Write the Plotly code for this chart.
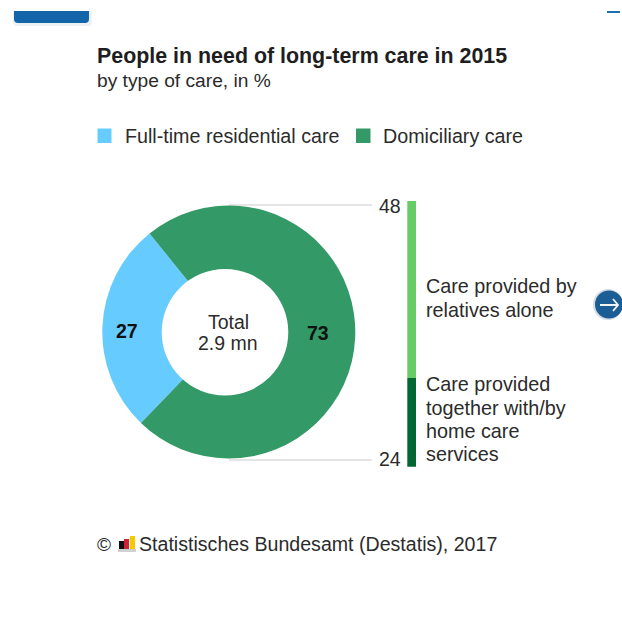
import plotly.graph_objects as go

W, H = 622, 644

# Care-type shares, in %
care_types = ["Full-time residential care", "Domiciliary care"]
care_shares = [27, 73]
care_colors = ["#66CCFF", "#339966"]

# Breakdown of domiciliary care, in %
home_types = ["Care provided together with/by home care services", "Care provided by relatives alone"]
home_shares = [24, 48]
home_colors = ["#006633", "#66CC66"]

title = "People in need of long-term care in 2015"
subtitle = "by type of care, in %"
center_lines = ["Total", "2.9 mn"]
source = "Statistisches Bundesamt (Destatis), 2017"
TEXT = "#2b2b2b"
FONT = "Liberation Sans"


def px(x):
    return x / W


def py(y):
    return 1 - y / H


def label(x, y, text, size=19.5, anchor="left", bold=False, color=TEXT):
    return dict(
        x=px(x), y=py(y), xref="paper", yref="paper", text=f"<b>{text}</b>" if bold else text,
        showarrow=False, xanchor=anchor, yanchor="middle", align=anchor, borderpad=0, borderwidth=0,
        font=dict(family=FONT, size=size, color=color),
    )


def rect(x0, y0, x1, y1, color):
    return dict(type="rect", xref="paper", yref="paper", x0=px(x0), x1=px(x1), y0=py(y0), y1=py(y1),
                fillcolor=color, line_width=0, layer="above")


def hline(x0, x1, y):
    return dict(type="line", xref="paper", yref="paper", x0=px(x0), x1=px(x1), y0=py(y), y1=py(y),
                line=dict(color="#dddddd", width=1.5), layer="below")


def tab(x0, x1, y0, y1, r, color):
    # Bar with rounded lower corners
    return dict(type="path", xref="paper", yref="paper", layer="above", line_width=0, fillcolor=color,
                path=f"M {px(x0)} {py(y0)} L {px(x1)} {py(y0)} L {px(x1)} {py(y1 - r)} "
                     f"Q {px(x1)} {py(y1)} {px(x1 - r)} {py(y1)} L {px(x0 + r)} {py(y1)} "
                     f"Q {px(x0)} {py(y1)} {px(x0)} {py(y1 - r)} Z")


fig = go.Figure()

# Donut with the two care types; the white disc below forms its opening
fig.add_trace(go.Pie(
    labels=care_types, values=care_shares, hole=0.44, sort=False, direction="clockwise", rotation=224,
    marker=dict(colors=care_colors, line=dict(width=0)), textinfo="none", showlegend=False,
    domain=dict(x=[px(102.3), px(355.3)], y=[py(458.5), py(205.5)]),
))

# Stacked bar splitting domiciliary care
for name, value, color in zip(home_types, home_shares, home_colors):
    fig.add_trace(go.Bar(x=[0], y=[value], name=name, marker=dict(color=color, line_width=0), width=1,
                         xaxis="x2", yaxis="y2", showlegend=False))

annotations = [
    label(97, 56, title, 21.4, bold=True, color="#1e1e1e"),
    label(97, 80, subtitle, 19.2),
    label(125, 136, care_types[0], 19.7),
    label(383, 136, care_types[1], 19.7),
    label(228, 322, center_lines[0], anchor="center"),
    label(228, 343, center_lines[1], anchor="center"),
    label(127, 331, str(care_shares[0]), bold=True, anchor="center", color="#111111"),
    label(318, 333, str(care_shares[1]), bold=True, anchor="center", color="#111111"),
    label(390, 206, str(home_shares[1]), anchor="center"),
    label(390, 459, str(home_shares[0]), anchor="center"),
    label(426, 286, "Care provided by", 19.8),
    label(426, 310, "relatives alone", 19.8),
    label(426, 384, "Care provided", 19.8),
    label(426, 408, "together with/by", 19.8),
    label(426, 431, "home care", 19.8),
    label(426, 454, "services", 19.8),
    label(97, 544, "©", 19),
    label(139, 544, source, 19.6),
]

shapes = [
    hline(229, 372, 205),
    hline(229, 372, 460),
    dict(type="circle", xref="paper", yref="paper", layer="above", fillcolor="white", line_width=0,
         x0=px(161.7), x1=px(288.3), y0=py(269), y1=py(395.6)),
    rect(97.5, 128.5, 111.5, 143, care_colors[0]),
    rect(356, 128.5, 370.5, 143, care_colors[1]),
    # Small logo beside the source line
    rect(119, 541, 124, 549, "#111111"),
    rect(124, 539, 129, 549, "#cc2233"),
    rect(130, 536, 135, 549, "#f5c800"),
    rect(118, 549, 136, 552, "#d0d0d0"),
    # Navigation pieces at the page edges
    tab(13, 92, 11, 26, 4, "#eef1f4"),
    tab(14, 89, 11, 23, 4, "#1265a8"),
    rect(607, 11, 620, 13, "#1c6fb0"),
    dict(type="circle", xref="paper", yref="paper", layer="above", fillcolor="#d5dde4", line_width=0,
         x0=px(593), x1=px(623), y0=py(289), y1=py(320)),
    dict(type="circle", xref="paper", yref="paper", layer="above", fillcolor="#1b5e96", line_width=0,
         x0=px(595), x1=px(623), y0=py(290.5), y1=py(318.5)),
    dict(type="path", xref="paper", yref="paper", layer="above", line=dict(color="#f2f6fa", width=1.8),
         path=f"M {px(600)} {py(305)} L {px(618)} {py(305)} M {px(613)} {py(299)} L {px(618)} {py(305)} "
              f"L {px(613)} {py(311)}"),
]

fig.update_layout(
    width=W, height=H, margin=dict(l=0, r=0, t=0, b=0), paper_bgcolor="white", plot_bgcolor="white",
    barmode="stack", bargap=0, showlegend=False, annotations=annotations, shapes=shapes,
    xaxis2=dict(domain=[px(407.3), px(416.7)], range=[-0.5, 0.5], visible=False, anchor="y2", fixedrange=True),
    yaxis2=dict(domain=[py(466.7), py(201)], range=[0, 72], visible=False, anchor="x2", fixedrange=True),
)

fig.write_html("out.html", config=dict(displayModeBar=False))
